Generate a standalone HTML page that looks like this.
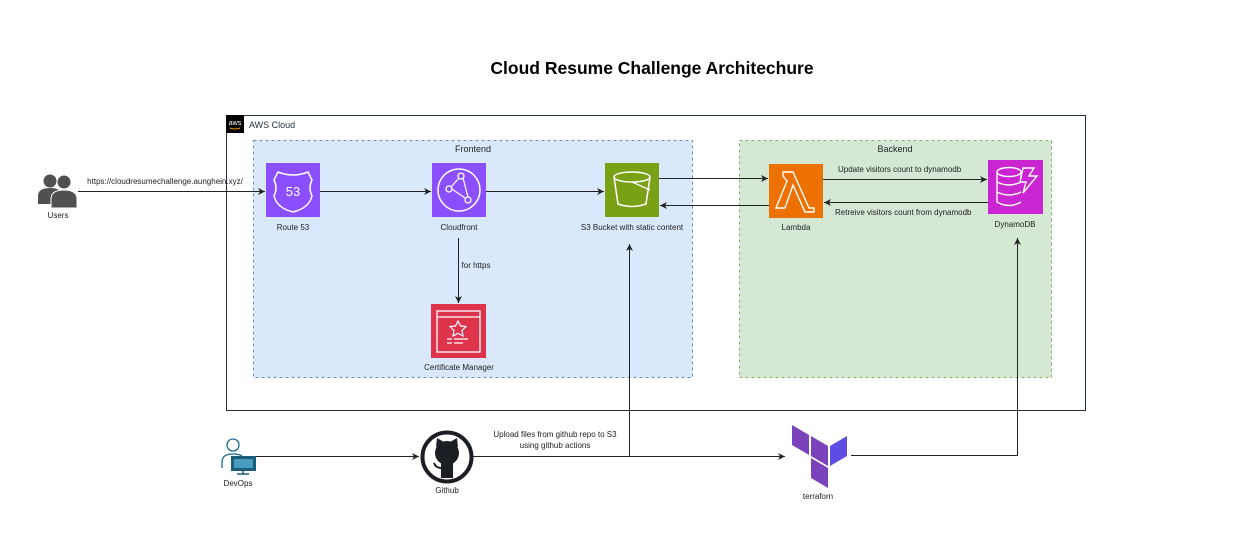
<!DOCTYPE html>
<html><head><meta charset="utf-8"><style>
html,body{margin:0;padding:0;background:#fff;}
svg{display:block;font-family:"Liberation Sans",Arial,sans-serif;}
</style></head><body>
<svg width="1241" height="535" viewBox="0 0 1241 535" xmlns="http://www.w3.org/2000/svg">
<defs>
<marker id="a" markerWidth="8" markerHeight="8" refX="7" refY="4" orient="auto" markerUnits="userSpaceOnUse">
<path d="M0,0.5 L7,4 L0,7.5 L2,4 z" fill="#222"/></marker>
</defs>
<rect width="1241" height="535" fill="#fff"/>
<text x="652" y="74" text-anchor="middle" font-size="17.5" font-weight="bold" fill="#000">Cloud Resume Challenge Architechure</text>

<rect x="226.5" y="115.5" width="859" height="295" fill="none" stroke="#232f3e" stroke-width="1"/>
<rect x="226" y="115" width="18" height="18" fill="#000"/>
<text x="235" y="125" text-anchor="middle" font-size="7" fill="#fff">aws</text>
<path d="M230,128 q5,2 10,0" stroke="#f90" stroke-width="1" fill="none"/>
<text x="249" y="128" font-size="9" fill="#232f3e">AWS Cloud</text>

<rect x="253.5" y="140.5" width="439" height="237" fill="#dae8fc" stroke="#6c8ebf" stroke-dasharray="3,3"/>
<text x="473" y="152" text-anchor="middle" font-size="9" fill="#222">Frontend</text>
<rect x="739.5" y="140.5" width="312" height="237" fill="#d5e8d4" stroke="#82b366" stroke-dasharray="3,3"/>
<text x="895" y="152" text-anchor="middle" font-size="9" fill="#222">Backend</text>

<rect x="266" y="163" width="54" height="54" fill="#8c4fff"/>
<path d="M278,172 q15,6 30,0 l4,8 q-4,8 0,16 q-3,12 -19,16 q-16,-4 -19,-16 q4,-8 0,-16z" fill="none" stroke="#fff" stroke-width="1.5"/>
<text x="293" y="196" text-anchor="middle" font-size="13" fill="#fff">53</text>
<text x="293" y="230" text-anchor="middle" font-size="8" fill="#222">Route 53</text>

<rect x="432" y="163" width="54" height="54" fill="#8c4fff"/>
<circle cx="459" cy="190" r="21" fill="none" stroke="#fff" stroke-width="1.5"/>
<circle cx="461" cy="176" r="3" fill="none" stroke="#fff" stroke-width="1.3"/>
<circle cx="449" cy="189" r="3" fill="none" stroke="#fff" stroke-width="1.3"/>
<circle cx="468" cy="200" r="3" fill="none" stroke="#fff" stroke-width="1.3"/>
<path d="M452,189 L465,198 M451,187 L459,178 M463,178 L468,197" stroke="#fff" stroke-width="1.2" fill="none"/>
<text x="459" y="230" text-anchor="middle" font-size="8" fill="#222">Cloudfront</text>

<rect x="605" y="163" width="54" height="54" fill="#7aa116"/>
<ellipse cx="632" cy="177" rx="18" ry="5" fill="none" stroke="#fff" stroke-width="1.5"/>
<path d="M614,177 l4,27 q14,5 28,0 l4,-27" fill="none" stroke="#fff" stroke-width="1.5"/>
<path d="M632,182 l18,8" stroke="#fff" stroke-width="1.3"/>
<text x="632" y="230" text-anchor="middle" font-size="8" fill="#222">S3 Bucket with static content</text>

<rect x="431" y="304" width="55" height="54" fill="#dd344c"/>
<rect x="437" y="311" width="43" height="41" fill="none" stroke="#fff" stroke-width="1.3"/>
<path d="M437,317 h43" stroke="#fff" stroke-width="1.3"/>
<path d="M458,321 l2.5,5 5.5,.5 -4,4 1,5.5 -5,-2.7 -5,2.7 1,-5.5 -4,-4 5.5,-.5z" fill="none" stroke="#fff" stroke-width="1.2"/>
<path d="M447,339 h5 M454,339 h14 M447,343 h5 M454,343 h9" stroke="#fff" stroke-width="1.2"/>
<text x="459" y="370" text-anchor="middle" font-size="8" fill="#222">Certificate Manager</text>

<rect x="769" y="164" width="54" height="54" fill="#ed7100"/>
<path d="M783,172 h10 l16,36 h5 v4 h-9 l-12,-27 -8,23 h-9 l11,-27 -4,-5 z" fill="none" stroke="#fff" stroke-width="1.4"/>
<text x="796" y="230" text-anchor="middle" font-size="8" fill="#222">Lambda</text>

<rect x="988" y="160" width="55" height="54" fill="#c925d1"/>
<ellipse cx="1009" cy="172" rx="12" ry="4.5" fill="none" stroke="#fff" stroke-width="1.4"/>
<path d="M997,172 v30 q12,7 24,0 M997,182 q12,6 24,0 M997,192 q12,6 24,0 M1021,172 v6" fill="none" stroke="#fff" stroke-width="1.4"/>
<path d="M1023,168 h11 l-5,8 h8 l-14,17 3,-11 h-6z" fill="none" stroke="#fff" stroke-width="1.4"/>
<text x="1015" y="227" text-anchor="middle" font-size="8" fill="#222">DynamoDB</text>

<circle cx="50" cy="181" r="6.5" fill="#505050"/>
<path d="M38,204 v-8 q0,-8 12,-8 q12,0 12,8 v8z" fill="#505050"/>
<circle cx="64" cy="182" r="7" fill="#505050" stroke="#fff" stroke-width="1"/>
<path d="M51,208 v-9 q0,-9 13,-9 q13,0 13,9 v9z" fill="#505050" stroke="#fff" stroke-width="1"/>
<text x="58" y="218" text-anchor="middle" font-size="8" fill="#222">Users</text>
<text x="165" y="184" text-anchor="middle" font-size="8" fill="#222">https://cloudresumechallenge.aunghein.xyz/</text>

<circle cx="233" cy="445" r="6" fill="none" stroke="#1b6b8a" stroke-width="1.3"/>
<path d="M222,468 v-6 q0,-8 11,-8 q6,0 9,2" fill="none" stroke="#1b6b8a" stroke-width="1.3"/>
<rect x="231" y="456" width="25" height="15" fill="#1b5e7a"/>
<rect x="234" y="459" width="19" height="9" fill="#4a9cc0"/>
<path d="M243,471 v3 M237,474 h12" stroke="#1b5e7a" stroke-width="1.5"/>
<text x="238" y="486" text-anchor="middle" font-size="8" fill="#222">DevOps</text>

<circle cx="447" cy="457" r="24.5" fill="#fff" stroke="#1b1f24" stroke-width="4"/>
<circle cx="447" cy="453" r="12" fill="#1b1f24"/>
<path d="M436,447 l1,-9 7,4 z M458,447 l-1,-9 -7,4 z" fill="#1b1f24"/>
<path d="M441,460 h12 v18 h-12z" fill="#1b1f24"/>
<path d="M441,468 q-5,0 -7,-5" stroke="#1b1f24" stroke-width="2" fill="none"/>
<text x="447" y="493" text-anchor="middle" font-size="8" fill="#222">Github</text>

<path d="M792,425 l17,10 v20 l-17,-10z" fill="#7b42bc"/>
<path d="M811,436 l17,10 v20 l-17,-10z" fill="#7b42bc"/>
<path d="M830,446 l17,-10 v20 l-17,10z" fill="#5c4ee5"/>
<path d="M811,458 l17,10 v20 l-17,-10z" fill="#7b42bc"/>
<text x="818" y="499" text-anchor="middle" font-size="8" fill="#222">terraforn</text>

<g stroke="#222" stroke-width="1" fill="none">
<path d="M78,191.5 H265" marker-end="url(#a)"/>
<path d="M320,191.5 H431" marker-end="url(#a)"/>
<path d="M486,191.5 H604" marker-end="url(#a)"/>
<path d="M659,178.5 H768" marker-end="url(#a)"/>
<path d="M769,205.5 H660" marker-end="url(#a)"/>
<path d="M823,179.5 H987" marker-end="url(#a)"/>
<path d="M988,202.5 H824" marker-end="url(#a)"/>
<path d="M458.5,238 V303" marker-end="url(#a)"/>
<path d="M256,456.5 H419" marker-end="url(#a)"/>
<path d="M473,456.5 H785" marker-end="url(#a)"/>
<path d="M629.5,456 V244" marker-end="url(#a)"/>
<path d="M851,455.5 H1017.5 V238" marker-end="url(#a)"/>
</g>
<text x="838" y="172" font-size="8" fill="#222">Update visitors count to dynamodb</text>
<text x="835" y="215" font-size="8" fill="#222">Retreive visitors count from dynamodb</text>
<text x="476" y="268" text-anchor="middle" font-size="8" fill="#222">for https</text>
<text x="555" y="437" text-anchor="middle" font-size="8" fill="#222">Upload files from github repo to S3</text>
<text x="555" y="448" text-anchor="middle" font-size="8" fill="#222">using github actions</text>
</svg>
</body></html>
